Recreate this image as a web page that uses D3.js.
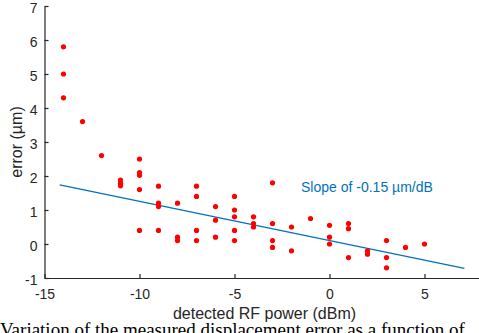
<!DOCTYPE html>
<html>
<head>
<meta charset="utf-8">
<script src="https://cdn.jsdelivr.net/npm/d3@7"></script>
<style>
  html, body { margin: 0; padding: 0; background: #fff; }
  svg { display: block; }
</style>
</head>
<body>
<svg id="chart" width="479" height="333"></svg>
<script>
// ---- data ----
const powerDbm = [
  -14, -14, -14, -13, -12,
  -11, -11, -11,
  -10, -10, -10, -10, -10,
  -9, -9, -9, -9,
  -8, -8, -8,
  -7, -7, -7, -7,
  -6, -6, -6,
  -5, -5, -5, -5, -5,
  -4, -4, -4,
  -3, -3, -3, -3,
  -2, -2,
  -1,
  0, 0, 0,
  1, 1, 1,
  2, 2,
  3, 3, 3,
  4, 5
];
const errorUm = [
  5.8, 5.0, 4.3, 3.6, 2.6,
  1.88, 1.79, 1.71,
  2.5, 2.1, 2.02, 1.6, 0.4,
  1.7, 1.2, 1.1, 0.4,
  1.2, 0.2, 0.1,
  1.7, 1.4, 0.4, 0.1,
  1.1, 0.7, 0.2,
  1.4, 1.0, 0.8, 0.4, 0.1,
  0.8, 0.6, 0.5,
  1.8, 0.6, 0.1, -0.1,
  0.5, -0.2,
  0.75,
  0.55, 0.2, 0.0,
  0.6, 0.45, -0.4,
  -0.2, -0.3,
  0.1, -0.4, -0.7,
  -0.1, 0.0
];
const fitX = [-14.2, 7.1];
const fitY = [1.74, -0.72];
const xTicks = [-15, -10, -5, 0, 5];
const yTicks = [-1, 0, 1, 2, 3, 4, 5, 6, 7];
const xLabel = "detected RF power (dBm)";
const yLabel = "error (\u00B5m)";
const annotation = "Slope of -0.15 \u00B5m/dB";
const caption = "Variation of the measured displacement error as a function of";

// ---- layout ----
const svg = d3.select("#chart");
const axisColor = "#262626";
const font = "'Liberation Sans', Arial, Helvetica, sans-serif";

const x = d3.scaleLinear().domain([-15, 8]).range([44.5, 481.5]);
const y = d3.scaleLinear().domain([-1, 7]).range([278, 6]);

// fit line
svg.append("path")
  .datum(fitX.map((v, i) => [v, fitY[i]]))
  .attr("fill", "none")
  .attr("stroke", "#0072BD")
  .attr("stroke-width", 1.3)
  .attr("d", d3.line().x(d => x(d[0])).y(d => y(d[1])));

// points
svg.append("g")
  .selectAll("circle")
  .data(powerDbm.map((v, i) => [v, errorUm[i]]))
  .join("circle")
  .attr("cx", d => x(d[0]))
  .attr("cy", d => y(d[1]))
  .attr("r", 2.6)
  .attr("fill", "#ff0000");

// axes
const xAxis = svg.append("g")
  .attr("transform", `translate(0,${y(-1)})`)
  .call(d3.axisBottom(x).tickValues(xTicks).tickFormat(d => String(d))
        .tickSizeInner(-4).tickSizeOuter(0).tickPadding(11));
const yAxis = svg.append("g")
  .attr("transform", `translate(${x(-15)},0)`)
  .call(d3.axisLeft(y).tickValues(yTicks).tickFormat(d => String(d))
        .tickSizeInner(-4).tickSizeOuter(0).tickPadding(7));

[xAxis, yAxis].forEach(g => {
  g.select(".domain").attr("stroke", axisColor).attr("stroke-width", 1.2);
  g.selectAll(".tick line").attr("stroke", axisColor).attr("stroke-width", 1.2);
  g.selectAll(".tick text")
    .attr("fill", axisColor)
    .style("font-family", font)
    .style("font-size", "14px");
});
yAxis.selectAll(".tick text").attr("dy", "0.47em");

// axis labels
svg.append("text")
  .attr("x", 264.5).attr("y", 318.5)
  .attr("text-anchor", "middle")
  .attr("fill", axisColor)
  .style("font-family", font).style("font-size", "16px")
  .text(xLabel);

svg.append("text")
  .attr("transform", "translate(21.5,142) rotate(-90)")
  .attr("text-anchor", "middle")
  .attr("fill", axisColor)
  .style("font-family", font).style("font-size", "16px")
  .text(yLabel);

// annotation
svg.append("text")
  .attr("x", 301).attr("y", 192)
  .attr("fill", "#0072BD")
  .style("font-family", font).style("font-size", "14px")
  .text(annotation);

// cut-off caption below the figure
svg.append("text")
  .attr("x", 0).attr("y", 336)
  .attr("fill", "#000")
  .style("font-family", "'Liberation Serif', 'Times New Roman', serif")
  .style("font-size", "19px")
  .text(caption);
</script>
</body>
</html>
